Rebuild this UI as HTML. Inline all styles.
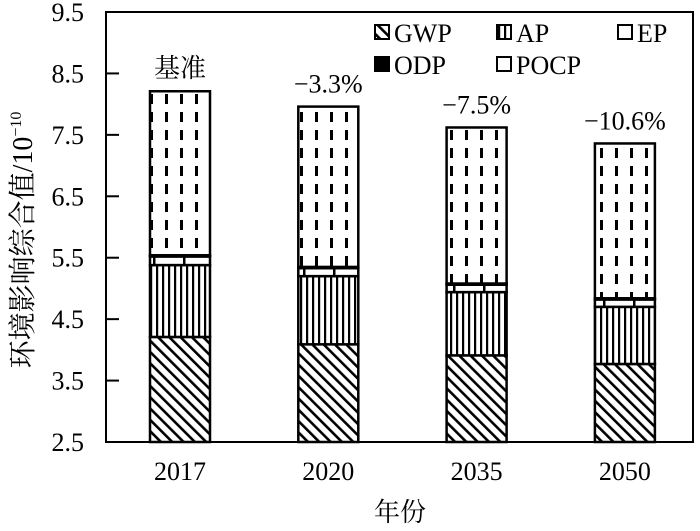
<!DOCTYPE html>
<html><head><meta charset="utf-8"><style>
body{margin:0;background:#fff}
svg text{font-family:"Liberation Serif","Noto Serif CJK SC",serif;fill:#000}
</style></head><body>
<svg id="chart" width="700" height="526" viewBox="0 0 700 526" xmlns="http://www.w3.org/2000/svg">
<defs>
<pattern id="pGWP" width="8" height="8" patternUnits="userSpaceOnUse" patternTransform="rotate(-45)">
<rect width="8" height="8" fill="#fff"/><rect x="0" y="0" width="2.6" height="8" fill="#000"/></pattern>
<pattern id="pAP" width="6" height="10" patternUnits="userSpaceOnUse">
<rect width="6" height="10" fill="#fff"/><rect x="0" y="0" width="2.2" height="10" fill="#000"/></pattern>
<pattern id="pEP" width="30" height="10" patternUnits="userSpaceOnUse" x="3">
<rect width="30" height="10" fill="#fff"/><rect x="0" y="0" width="2.5" height="10" fill="#000"/></pattern>
<pattern id="pPOCP" width="15" height="18" patternUnits="userSpaceOnUse">
<rect width="15" height="18" fill="#fff"/><rect x="0" y="4" width="3" height="10" fill="#000"/></pattern>
<pattern id="pODP" width="4" height="4" patternUnits="userSpaceOnUse">
<rect width="4" height="4" fill="#000"/></pattern>
</defs>
<g id="plot"></g>
</svg>
<script>
const categories=["2017","2020","2035","2050"];
const gwp=[4.21,4.09,3.91,3.77];
const ap=[1.17,1.11,1.03,0.93];
const ep=[0.14,0.13,0.12,0.12];
const odp=[0.02,0.02,0.02,0.02];
const pocp=[2.67,2.61,2.54,2.52];
const changeLabels=["基准","−3.3%","−7.5%","−10.6%"];
const yTicks=[2.5,3.5,4.5,5.5,6.5,7.5,8.5,9.5];
const seriesNames=["GWP","AP","EP","ODP","POCP"];
const series=[gwp,ap,ep,odp,pocp];
const fills=["url(#pGWP)","url(#pAP)","url(#pEP)","url(#pODP)","url(#pPOCP)"];
const Y0=2.5,Y1=9.5,PT=12,PB=442,PL=106,PR=693;
const y=v=>PB-(Math.max(v,Y0)-Y0)/(Y1-Y0)*(PB-PT);
const x=i=>180+i*148.3;
const BW=60;
const NS="http://www.w3.org/2000/svg";
const g=document.getElementById('plot');
function mk(t,a){const e=document.createElementNS(NS,t);for(const k in a)e.setAttribute(k,a[k]);g.appendChild(e);return e;}
let fr=mk('rect',{x:PL,y:PT,width:PR-PL,height:PB-PT,fill:'none',stroke:'#000','stroke-width':2});


yTicks.forEach(t=>{
 const l=mk('line',{x1:PL,x2:PL+13,y1:y(t),y2:y(t),stroke:'#000','stroke-width':2});
 
 
 const tx=mk('text',{x:84,y:y(t)+9,'text-anchor':'end','font-size':26});
 tx.textContent=t.toFixed(1);
 
 
});
categories.forEach((c,i)=>{
 let base=0;
 series.forEach((s,j)=>{
  const top=base+s[i];
  const r=mk('rect',{x:x(i)-BW/2,y:y(top),width:BW,height:y(base)-y(top),fill:fills[j],stroke:'#000','stroke-width':2.5});
  
  
  base=top;
 });
 const lb=mk('text',{x:x(i),y:y(base)-14,'text-anchor':'middle','font-size':26});
 lb.textContent=changeLabels[i];
 
 
 const xl=mk('text',{x:x(i),y:480,'text-anchor':'middle','font-size':26});
 xl.textContent=c;
 
 
});
const xt=mk('text',{x:400,y:521,'text-anchor':'middle','font-size':26});
xt.textContent="年份";


const yt=mk('text',{x:0,y:0,'text-anchor':'middle','font-size':28,transform:'translate(32,240) rotate(-90)'});
yt.innerHTML='环境影响综合值/10<tspan dy="-11" font-size="16">−10</tspan>';


const legPos=[[375,42],[497,42],[618,42],[375,74],[497,74]];
seriesNames.forEach((n,j)=>{
 const [lx,ly]=legPos[j];
 const s=mk('rect',{x:lx,y:ly-17,width:14,height:14,fill:fills[j],stroke:'#000','stroke-width':2});
 
 
 const t=mk('text',{x:lx+19,y:ly,'font-size':26});
 t.textContent=n;
 
 
});
</script>
</body></html>
